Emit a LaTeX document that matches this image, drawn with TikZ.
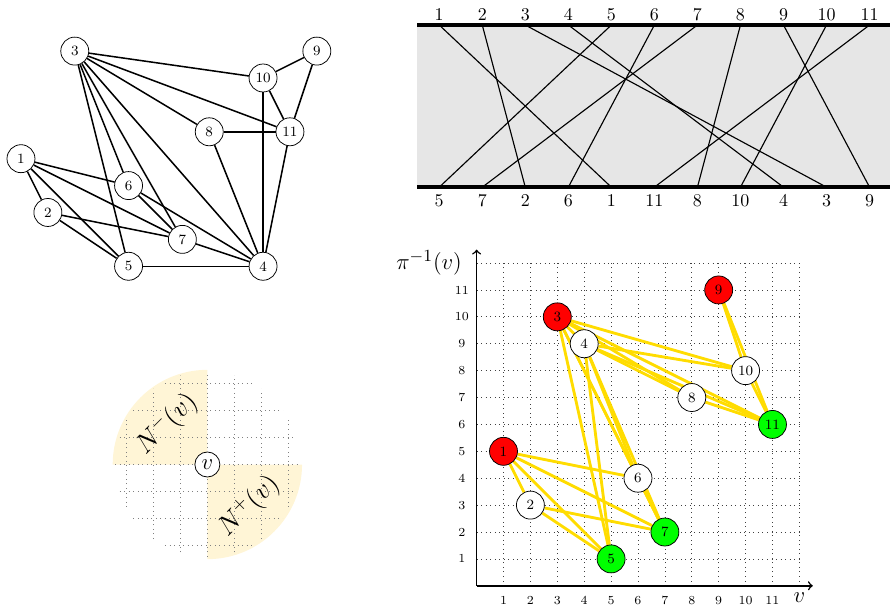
\documentclass[tikz,border=0pt]{standalone}
\usepackage{fontspec}
\usetikzlibrary{backgrounds}
\definecolor{edgeyellow}{HTML}{FFDC00}
\definecolor{nbhd}{HTML}{FFF5D6}
\definecolor{band}{HTML}{E6E6E6}

\begin{document}
\begin{tikzpicture}[x=0.5cm, y=0.5cm,
    every node/.style={font=\fontsize{9.5}{11}\selectfont},
    vx/.style={circle, draw, thin, minimum size=0.52cm, inner sep=0pt,
               fill=white, font=\fontsize{7.5}{8}\selectfont},
    src/.style={vx, fill=red},
    snk/.style={vx, fill=green},
    ge/.style={thick},
    pe/.style={line width=1.5pt, edgeyellow},
    ticklab/.style={font=\fontsize{6.5}{7}\selectfont},
    rail/.style={line width=1.8pt}
]
    \useasboundingbox (0,0) rectangle (33.09,22.57);

    % graph
    \begin{scope}[shift={(0.78,12.67)}]
    \node[vx] (g1) at (0,4) {1};
    \node[vx] (g2) at (1,2) {2};
    \node[vx] (g3) at (2,8) {3};
    \node[vx] (g4) at (9,0) {4};
    \node[vx] (g5) at (4,0) {5};
    \node[vx] (g6) at (4,3) {6};
    \node[vx] (g7) at (6,1) {7};
    \node[vx] (g8) at (7,5) {8};
    \node[vx] (g9) at (11,8) {9};
    \node[vx] (g10) at (9,7) {10};
    \node[vx] (g11) at (10,5) {11};
    \foreach \a/\b in {1/2,1/5,1/6,1/7,2/5,2/7,3/4,3/5,3/6,3/7,3/8,3/10,3/11,
                       4/5,4/6,4/7,4/8,4/10,4/11,6/7,8/11,9/10,9/11,10/11}
        \draw[ge] (g\a) -- (g\b);
    \end{scope}

    % permutation diagram
    \begin{scope}[shift={(14.73,15.61)}, x=0.8cm]
    \fill[band] (0.49,0) rectangle (11.48,6.03);
    \draw[rail] (0.49,0) -- (11.48,0);
    \draw[rail] (0.49,6.03) -- (11.48,6.03);
    \foreach \i in {1,...,11} {
        \coordinate (u\i) at (\i,6.03);
        \coordinate (d\i) at (\i,0);
        \node (t\i) at (\i,6.43) {\i};
    }
    \foreach \p/\v in {1/5,2/7,3/2,4/6,5/1,6/11,7/8,8/10,9/4,10/3,11/9}
        \node (b\p) at (\p,-0.5) {\v};
    \foreach \i/\p in {1/5,2/3,3/10,4/9,5/1,6/4,7/2,8/7,9/11,10/8,11/6}
        \draw[semithick] (u\i) -- (d\p);
    \end{scope}

    % neighbourhoods
    \begin{scope}[shift={(7.71,5.30)}]
    \fill[nbhd] (0,0) -- (0,3.52) arc[start angle=90, end angle=180, radius=3.52] -- cycle;
    \fill[nbhd] (0,0) -- (0,-3.52) arc[start angle=270, end angle=360, radius=3.52] -- cycle;
    \begin{scope}
    \clip (0,0) circle[radius=3.45];
    \foreach \k in {-3,...,3} {
        \draw[dotted, black!50] (\k,-3.6) -- (\k,3.6);
        \draw[dotted, black!50] (-3.6,\k) -- (3.6,\k);
    }
    \end{scope}
    \node[circle, draw, fill=white, minimum size=0.465cm, inner sep=0pt, font=\large] (v) at (0,0) {$v$};
    \node[rotate=45, font=\Large] (nm) at (-1.5,1.5) {$N^-(v)$};
    \node[rotate=45, font=\Large] (np) at (1.55,-1.55) {$N^+(v)$};
    \end{scope}

    % point set
    \begin{scope}[shift={(17.72,0.79)}]
    \coordinate (o) at (0,0);
    \coordinate (xend) at (12.5,0);
    \coordinate (yend) at (0,12.5);
    \foreach \v/\y/\s in {1/5/src,2/3/vx,3/10/src,4/9/vx,5/1/snk,6/4/vx,
                          7/2/snk,8/7/vx,9/11/src,10/8/vx,11/6/snk}
        \node[\s] (p\v) at (\v,\y) {\v};
    \begin{scope}[on background layer]
    \foreach \k in {1,...,12} {
        \draw[dotted, black!75] (\k,0) -- (\k,12);
        \draw[dotted, black!75] (0,\k) -- (12,\k);
    }
    \foreach \a/\b in {1/2,1/5,1/6,1/7,2/5,2/7,3/4,3/5,3/6,3/7,3/8,3/10,3/11,
                       4/5,4/6,4/7,4/8,4/10,4/11,6/7,8/11,9/10,9/11,10/11}
        \draw[pe] (p\a) -- (p\b);
    \end{scope}
    \draw[->, thick] (o) -- (xend);
    \draw[->, thick] (o) -- (yend);
    \foreach \k in {1,...,11} {
        \node[ticklab] (xl\k) at (\k,-0.55) {\k};
        \node[ticklab] (yl\k) at (-0.55,\k) {\k};
    }
    \node[font=\large] (xlab) at (12,-0.45) {$v$};
    \node[font=\fontsize{13}{15}\selectfont, anchor=east] (ylab) at (-0.3,12) {$\pi^{-1}(v)$};
    \end{scope}
\end{tikzpicture}
\end{document}
